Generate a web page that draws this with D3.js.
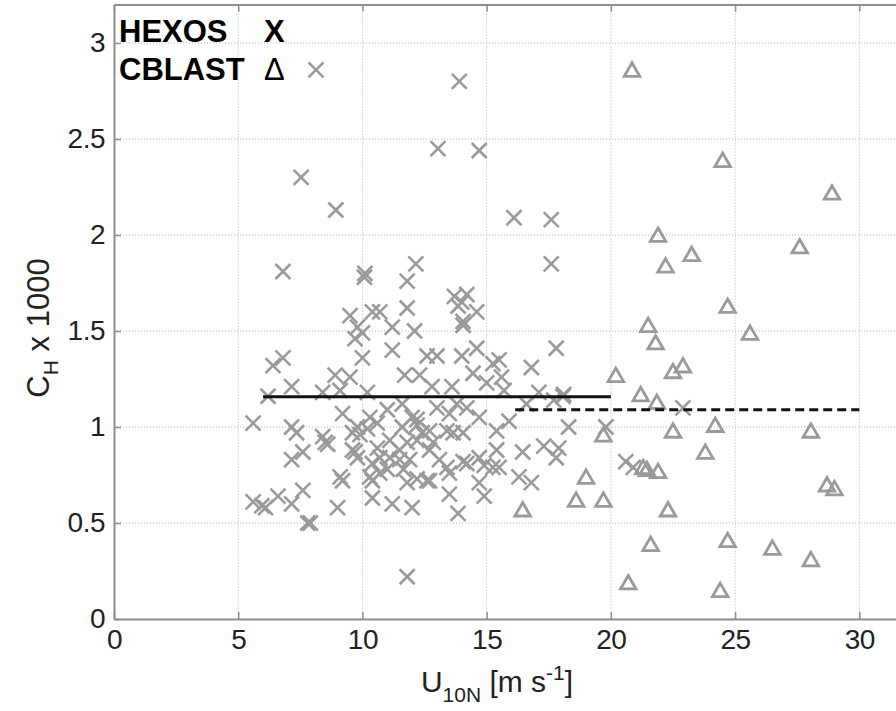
<!DOCTYPE html>
<html>
<head>
<meta charset="utf-8">
<script src="https://cdn.jsdelivr.net/npm/d3@7"></script>
<style>
  body { margin: 0; background: #fff; }
  svg { display: block; font-family: 'Liberation Sans', Arial, sans-serif; }
</style>
</head>
<body>
<div class="canvas"></div>
<script>
// !--------------------------------------------------------------data content below

// HEXOS points [U10N, CH x 1000]
const hexos = [
  [8.13, 2.86], [13.9, 2.80], [7.53, 2.30], [13.04, 2.45], [14.7, 2.44], [8.93, 2.13],
  [16.1, 2.09], [17.6, 2.08], [17.6, 1.85], [12.15, 1.85], [10.1, 1.80], [10.08, 1.78],
  [6.8, 1.81], [11.8, 1.76], [13.7, 1.68], [14.2, 1.69], [14.0, 1.65], [13.85, 1.63],
  [14.6, 1.60], [11.8, 1.62], [9.5, 1.58], [10.4, 1.60], [10.7, 1.60], [11.2, 1.52],
  [12.1, 1.50], [9.8, 1.52], [10.0, 1.49], [9.7, 1.46], [14.05, 1.55], [14.05, 1.53],
  [11.2, 1.40], [10.0, 1.36], [12.6, 1.37], [13.0, 1.37], [14.0, 1.37], [14.6, 1.41],
  [17.8, 1.41], [6.4, 1.32], [6.8, 1.36], [16.8, 1.31], [15.25, 1.33], [15.5, 1.35],
  [14.45, 1.28], [15.6, 1.26], [15.0, 1.23], [15.7, 1.19], [8.9, 1.27], [9.5, 1.26],
  [11.7, 1.27], [12.3, 1.27], [6.2, 1.16], [7.15, 1.21], [9.1, 1.19], [8.4, 1.18],
  [10.2, 1.18], [12.8, 1.21], [13.6, 1.21], [17.1, 1.18], [18.1, 1.17], [17.7, 1.14],
  [16.6, 1.12], [18.07, 1.16], [22.9, 1.10], [11.6, 1.12], [13.0, 1.10], [13.5, 1.07],
  [13.8, 1.12], [14.2, 1.10], [9.2, 1.07], [10.3, 1.05], [11.0, 1.09], [12.0, 1.05],
  [12.2, 1.04], [14.7, 1.05], [15.9, 1.03], [5.6, 1.02], [7.15, 1.0], [7.35, 0.97],
  [8.4, 0.95], [9.6, 0.97], [9.8, 1.0], [10.2, 0.99], [10.6, 1.02], [11.6, 1.0],
  [12.2, 1.01], [12.7, 0.98], [13.4, 0.98], [14.05, 0.97], [15.4, 0.98], [18.3, 1.0],
  [19.8, 1.0], [9.9, 0.96], [12.4, 0.97], [13.65, 0.97],
  [7.15, 0.83], [7.6, 0.87], [8.5, 0.92], [8.6, 0.91], [9.7, 0.87], [9.6, 0.88],
  [9.8, 0.84], [10.4, 0.81], [10.7, 0.76], [11.1, 0.84], [11.1, 0.93], [11.5, 0.88],
  [11.8, 0.92], [11.9, 0.83], [11.65, 0.78], [12.2, 0.73], [12.7, 0.88], [12.7, 0.72],
  [13.1, 0.83], [13.4, 0.79], [13.5, 0.76], [14.05, 0.82], [14.7, 0.84], [14.9, 0.80],
  [15.4, 0.88], [15.5, 0.79], [16.45, 0.87], [17.3, 0.90], [17.9, 0.89], [17.8, 0.84],
  [16.3, 0.74], [16.8, 0.71], [14.7, 0.71], [14.9, 0.64], [13.85, 0.55], [13.5, 0.65],
  [10.3, 0.74], [10.6, 0.89], [20.6, 0.82], [20.9, 0.79], [10.7, 0.84], [11.0, 0.78],
  [11.5, 0.83], [12.2, 0.93], [12.85, 0.92], [12.6, 0.72], [11.8, 0.71], [10.4, 0.72],
  [14.2, 0.81], [15.25, 0.79],
  [5.6, 0.61], [5.95, 0.59], [6.1, 0.58], [6.6, 0.64], [7.15, 0.60], [7.6, 0.67],
  [7.8, 0.50], [7.9, 0.50], [9.1, 0.74], [9.2, 0.72], [9.0, 0.58], [10.4, 0.63],
  [11.2, 0.60], [12.0, 0.58], [11.8, 0.22]
];

// CBLAST points [U10N, CH x 1000]
const cblast = [
  [20.85, 2.85], [24.5, 2.38], [28.9, 2.21], [21.9, 1.99], [23.25, 1.89], [22.2, 1.83],
  [27.6, 1.93], [24.7, 1.62], [21.5, 1.52], [25.6, 1.48], [21.8, 1.43], [20.2, 1.26],
  [22.5, 1.28], [22.9, 1.31], [21.2, 1.16], [21.85, 1.12], [19.7, 0.95], [22.5, 0.97],
  [24.2, 1.0], [28.05, 0.97], [23.8, 0.86], [21.3, 0.78], [21.45, 0.77], [21.9, 0.76],
  [19.0, 0.73], [28.7, 0.69], [29.0, 0.67], [18.6, 0.61], [19.7, 0.61], [22.3, 0.56],
  [16.45, 0.56], [24.7, 0.40], [21.6, 0.38], [26.5, 0.36], [28.05, 0.30], [20.7, 0.18],
  [24.4, 0.14]
];

// mean lines [x start, x end, value]
const hexosMean = [6.0, 20.0, 1.158];
const cblastMean = [16.15, 30.0, 1.09];

const xTicks = [0, 5, 10, 15, 20, 25, 30];
const yTicks = [0, 0.5, 1, 1.5, 2, 2.5, 3];

// !----------------------------------------------------------graph content below

const dims = { width: 896, height: 711 };

const svg = d3
  .select('.canvas')
  .append('svg')
  .attr('width', dims.width)
  .attr('height', dims.height);

const x = d3.scaleLinear().domain([0, 32]).range([114, 909]);
const y = d3.scaleLinear().domain([0, 3.2]).range([619, 4.6]);

const frameCol = '#8e8e8e';
const markCol = '#9a9a9a';

// grid lines
svg
  .append('g')
  .selectAll('line')
  .data(xTicks.slice(1))
  .enter()
  .append('line')
  .attr('x1', (d) => x(d))
  .attr('x2', (d) => x(d))
  .attr('y1', y(3.2))
  .attr('y2', y(0))
  .attr('stroke', '#b4b4b4')
  .attr('stroke-width', 1)
  .attr('stroke-dasharray', '1,2');

svg
  .append('g')
  .selectAll('line')
  .data(yTicks.slice(1))
  .enter()
  .append('line')
  .attr('x1', x(0))
  .attr('x2', x(32))
  .attr('y1', (d) => y(d))
  .attr('y2', (d) => y(d))
  .attr('stroke', '#b4b4b4')
  .attr('stroke-width', 1)
  .attr('stroke-dasharray', '1,2');

// axes (ticks point inward)
const xAxis = d3.axisBottom(x).tickValues(xTicks).tickSizeInner(-7).tickSizeOuter(0).tickPadding(10);
const xAxisTop = d3.axisTop(x).tickValues(xTicks).tickSizeInner(-7).tickSizeOuter(0).tickFormat('');
const yAxis = d3.axisLeft(y).tickValues(yTicks).tickSizeInner(-7).tickSizeOuter(0).tickPadding(9).tickFormat((d) => String(d));

const styleAxis = (g) => {
  g.select('.domain').attr('stroke', frameCol).attr('stroke-width', 2);
  g.selectAll('.tick line').attr('stroke', frameCol).attr('stroke-width', 1.5);
  g.selectAll('.tick text')
    .attr('fill', '#222')
    .attr('font-size', 28)
    .attr('letter-spacing', -0.5)
    .attr('font-family', "'Liberation Sans', Arial, sans-serif");
};

svg.append('g').attr('transform', `translate(0, ${y(0)})`).call(xAxis).call(styleAxis);
svg.append('g').attr('transform', `translate(0, ${y(3.2)})`).call(xAxisTop).call(styleAxis);
svg.append('g').attr('transform', `translate(${x(0)}, 0)`).call(yAxis).call(styleAxis);

// HEXOS crosses
const crossPath = 'M-7.5,-7.5L7.5,7.5M-7.5,7.5L7.5,-7.5';
svg
  .append('g')
  .selectAll('path')
  .data(hexos)
  .enter()
  .append('path')
  .attr('d', crossPath)
  .attr('transform', (d) => `translate(${x(d[0])}, ${y(d[1])})`)
  .attr('fill', 'none')
  .attr('stroke', markCol)
  .attr('stroke-width', 2.6);

// CBLAST triangles
const tri = d3.symbol().type(d3.symbolTriangle).size(105);
svg
  .append('g')
  .selectAll('path')
  .data(cblast)
  .enter()
  .append('path')
  .attr('d', tri)
  .attr('transform', (d) => `translate(${x(d[0])}, ${y(d[1])})`)
  .attr('fill', 'none')
  .attr('stroke', markCol)
  .attr('stroke-width', 2.8)
  .attr('stroke-linejoin', 'miter');

// mean lines
svg
  .append('line')
  .attr('x1', x(hexosMean[0]))
  .attr('x2', x(hexosMean[1]))
  .attr('y1', y(hexosMean[2]))
  .attr('y2', y(hexosMean[2]))
  .attr('stroke', '#111')
  .attr('stroke-width', 3);

svg
  .append('line')
  .attr('x1', x(cblastMean[0]))
  .attr('x2', x(cblastMean[1]))
  .attr('y1', y(cblastMean[2]))
  .attr('y2', y(cblastMean[2]))
  .attr('stroke', '#111')
  .attr('stroke-width', 3)
  .attr('stroke-dasharray', '9,5');

// legend text
const legend = svg.append('g').attr('font-weight', 'bold').attr('font-size', 31).attr('fill', '#000');
legend.append('text').attr('x', 119).attr('y', 42).text('HEXOS');
legend.append('text').attr('x', 264).attr('y', 42).text('X');
legend.append('text').attr('x', 119).attr('y', 80).text('CBLAST');
legend.append('text').attr('x', 264).attr('y', 80).attr('font-weight', 'normal').text('\u0394');

// axis titles
const xTitle = svg
  .append('text')
  .attr('x', 497)
  .attr('y', 692)
  .attr('text-anchor', 'middle')
  .attr('font-size', 30)
  .attr('fill', '#222');
xTitle.append('tspan').text('U');
xTitle.append('tspan').attr('font-size', 21).attr('dy', 10).text('10N');
xTitle.append('tspan').attr('dy', -10).text(' [m s');
xTitle.append('tspan').attr('font-size', 21).attr('dy', -12).text('-1');
xTitle.append('tspan').attr('dy', 12).text(']');

const yTitle = svg
  .append('text')
  .attr('transform', 'translate(49, 328) rotate(-90)')
  .attr('text-anchor', 'middle')
  .attr('font-size', 31)
  .attr('fill', '#222');
yTitle.append('tspan').text('C');
yTitle.append('tspan').attr('font-size', 21).attr('dy', 9).text('H');
yTitle.append('tspan').attr('dy', -9).text(' x 1000');
</script>
</body>
</html>
